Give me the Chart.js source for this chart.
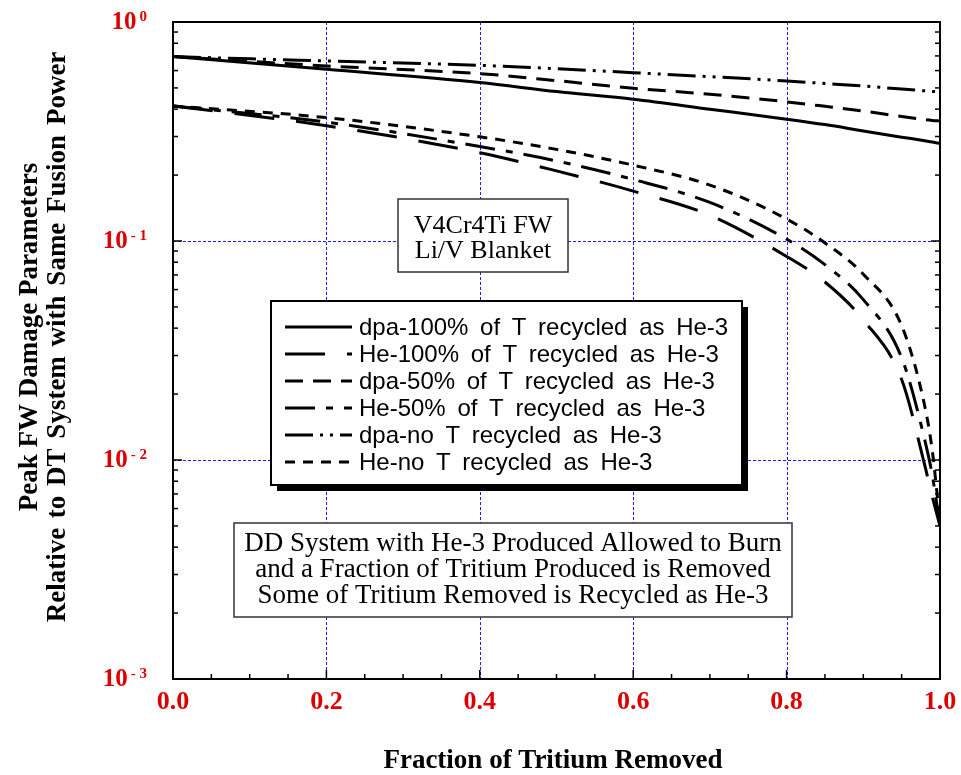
<!DOCTYPE html>
<html>
<head>
<meta charset="utf-8">
<title>Peak FW Damage Parameters</title>
<script src="https://cdn.jsdelivr.net/npm/chart.js@4.4.1/dist/chart.umd.min.js"></script>
<style>
  body { margin: 0; background: #fff; }
  canvas { display: block; }
</style>
</head>
<body>
<canvas id="canvas" width="961" height="775"></canvas>
<script>
// fraction of tritium removed, shared by all curves
const fraction = [0, 0.2, 0.4, 0.5, 0.6, 0.7, 0.8, 0.85, 0.9, 0.95, 0.98, 0.99, 1.0];

// peak damage relative to the DT system
const dpa100 = [0.695, 0.608, 0.529, 0.481, 0.444, 0.400, 0.360, 0.340, 0.318, 0.298, 0.287, 0.283, 0.279];
const he100  = [0.414, 0.336, 0.253, 0.209, 0.169, 0.131, 0.085, 0.065, 0.0436, 0.0233, 0.0095, 0.0068, 0.005];
const dpa50  = [0.695, 0.630, 0.581, 0.540, 0.498, 0.468, 0.432, 0.412, 0.392, 0.370, 0.358, 0.355, 0.353];
const he50   = [0.414, 0.349, 0.270, 0.232, 0.191, 0.150, 0.102, 0.078, 0.054, 0.0293, 0.0124, 0.0085, 0.005];
const dpaNo  = [0.695, 0.664, 0.634, 0.612, 0.587, 0.563, 0.538, 0.524, 0.510, 0.494, 0.485, 0.482, 0.480];
const heNo   = [0.414, 0.366, 0.299, 0.262, 0.222, 0.180, 0.126, 0.098, 0.0705, 0.041, 0.0177, 0.011, 0.0052];

const seriesNames = [
  'dpa-100% of T recycled as He-3',
  'He-100% of T recycled as He-3',
  'dpa-50% of T recycled as He-3',
  'He-50% of T recycled as He-3',
  'dpa-no T recycled as He-3',
  'He-no T recycled as He-3'
];
const seriesValues = [dpa100, he100, dpa50, he50, dpaNo, heNo];
const seriesDash = [[], [40, 22], [18, 10], [30, 11, 7, 11], [28, 7, 3, 7, 3, 7], [10, 8]];

// axis ticks
const xTicks = [0, 0.2, 0.4, 0.6, 0.8, 1.0];
const xTickLabels = ['0.0', '0.2', '0.4', '0.6', '0.8', '1.0'];
const yTicks = [0.001, 0.01, 0.1, 1];
const yTickExp = ['- 3', '- 2', '- 1', '0'];

const xTitle = 'Fraction of Tritium Removed';
const yTitle = ['Peak FW Damage Parameters', 'Relative to DT System with Same Fusion Power'];
const materialNote = ['V4Cr4Ti FW', 'Li/V Blanket'];
const systemNote = [
  'DD System with He-3 Produced Allowed to Burn',
  'and a Fraction of Tritium Produced is Removed',
  'Some of Tritium Removed is Recycled as He-3'
];

const RED = '#dd0000';
const SERIF = '"Liberation Serif", "Times New Roman", serif';
const SANS = '"Liberation Sans", Arial, sans-serif';

function line(ctx, x1, y1, x2, y2) {
  ctx.beginPath();
  ctx.moveTo(x1, y1);
  ctx.lineTo(x2, y2);
  ctx.stroke();
}

function textBox(ctx, x1, y1, x2, y2, lines, font, firstBaseline, lineGap) {
  ctx.save();
  ctx.fillStyle = '#fff';
  ctx.fillRect(x1, y1, x2 - x1, y2 - y1);
  ctx.strokeStyle = '#333';
  ctx.lineWidth = 1.5;
  ctx.strokeRect(x1, y1, x2 - x1, y2 - y1);
  ctx.fillStyle = '#000';
  ctx.font = font;
  ctx.textAlign = 'center';
  ctx.textBaseline = 'alphabetic';
  lines.forEach((t, i) => ctx.fillText(t, (x1 + x2) / 2, firstBaseline + i * lineGap));
  ctx.restore();
}

const decorations = {
  id: 'decorations',
  beforeDraw(chart) {
    const ctx = chart.ctx;
    ctx.save();
    ctx.fillStyle = '#fff';
    ctx.fillRect(0, 0, chart.width, chart.height);
    ctx.restore();
  },
  beforeDatasetsDraw(chart) {
    const { ctx, chartArea: a, scales: { x, y } } = chart;
    ctx.save();
    ctx.strokeStyle = '#1a1aff';
    ctx.lineWidth = 1;
    ctx.setLineDash([3, 2]);
    xTicks.slice(1, -1).forEach(v => {
      const px = Math.round(x.getPixelForValue(v)) + 0.5;
      line(ctx, px, a.top, px, a.bottom);
    });
    yTicks.slice(1, -1).forEach(v => {
      const py = Math.round(y.getPixelForValue(v)) + 0.5;
      line(ctx, a.left, py, a.right, py);
    });
    ctx.restore();
  },
  afterDatasetsDraw(chart) {
    const { ctx, chartArea: a, scales: { x, y } } = chart;
    ctx.save();

    // frame, ticks point inward on bottom, left and right
    ctx.strokeStyle = '#000';
    ctx.lineWidth = 2;
    ctx.strokeRect(a.left, a.top, a.right - a.left, a.bottom - a.top);
    ctx.lineWidth = 1.5;
    for (let i = 0; i <= 20; i++) {
      const len = i % 4 === 0 ? 9 : 5;
      const px = x.getPixelForValue(i * 0.05);
      line(ctx, px, a.bottom, px, a.bottom - len);
    }
    for (let d = -3; d <= 0; d++) {
      for (let k = 1; k <= 9; k++) {
        const v = k * Math.pow(10, d);
        if (v > 1) break;
        const len = k === 1 ? 9 : 5;
        const py = y.getPixelForValue(v);
        line(ctx, a.left, py, a.left + len, py);
        line(ctx, a.right, py, a.right - len, py);
      }
    }

    // tick labels
    ctx.fillStyle = RED;
    ctx.font = 'bold 26px ' + SERIF;
    ctx.textAlign = 'center';
    ctx.textBaseline = 'middle';
    xTicks.forEach((v, i) => ctx.fillText(xTickLabels[i], x.getPixelForValue(v), 702));

    yTicks.forEach((v, i) => {
      const py = y.getPixelForValue(v);
      ctx.font = 'bold 15px ' + SERIF;
      const we = ctx.measureText(yTickExp[i]).width;
      ctx.font = 'bold 25px ' + SERIF;
      const wb = ctx.measureText('10').width;
      const left = 147 - we - 3 - wb;
      ctx.textAlign = 'left';
      ctx.textBaseline = 'middle';
      ctx.fillText('10', left, py + 1);
      ctx.font = 'bold 15px ' + SERIF;
      ctx.textBaseline = 'alphabetic';
      ctx.fillText(yTickExp[i], left + wb + 3, py - 1);
    });

    // axis titles
    ctx.fillStyle = '#000';
    ctx.font = 'bold 27px ' + SERIF;
    ctx.textAlign = 'center';
    ctx.textBaseline = 'alphabetic';
    ctx.fillText(xTitle, 553, 768);
    ctx.save();
    ctx.translate(0, 337);
    ctx.rotate(-Math.PI / 2);
    ctx.textBaseline = 'middle';
    ctx.fillText(yTitle[0], 0, 30);
    if ('wordSpacing' in ctx) ctx.wordSpacing = '3px';
    ctx.fillText(yTitle[1], 0, 58);
    ctx.restore();

    // notes
    textBox(ctx, 398, 199, 568, 272, materialNote, '26px ' + SERIF, 233, 25);
    textBox(ctx, 234, 523, 792, 617, systemNote, '27px ' + SERIF, 551, 26);

    // legend with drop shadow
    const lx1 = 271, ly1 = 301, lx2 = 742, ly2 = 485;
    ctx.fillStyle = '#000';
    ctx.fillRect(lx1 + 6, ly1 + 6, lx2 - lx1, ly2 - ly1);
    ctx.fillStyle = '#fff';
    ctx.fillRect(lx1, ly1, lx2 - lx1, ly2 - ly1);
    ctx.strokeStyle = '#000';
    ctx.lineWidth = 2;
    ctx.strokeRect(lx1, ly1, lx2 - lx1, ly2 - ly1);
    ctx.font = '24px ' + SANS;
    if ('wordSpacing' in ctx) ctx.wordSpacing = '5px';
    ctx.textAlign = 'left';
    ctx.textBaseline = 'middle';
    chart.data.datasets.forEach((ds, i) => {
      const ry = 327 + i * 27;
      ctx.lineWidth = 3;
      ctx.setLineDash(ds.borderDash);
      line(ctx, 285, ry, 352, ry);
      ctx.setLineDash([]);
      ctx.fillStyle = '#000';
      ctx.fillText(ds.label, 359, ry + 1);
    });

    ctx.restore();
  }
};

new Chart(document.getElementById('canvas').getContext('2d'), {
  type: 'line',
  data: {
    datasets: seriesNames.map((name, i) => ({
      label: name,
      data: fraction.map((f, j) => ({ x: f, y: seriesValues[i][j] })),
      borderColor: '#000',
      borderWidth: 3,
      borderDash: seriesDash[i],
      pointRadius: 0,
      fill: false,
      cubicInterpolationMode: 'monotone'
    }))
  },
  options: {
    responsive: false,
    devicePixelRatio: 1,
    animation: false,
    events: [],
    layout: { padding: { left: 173, right: 21, top: 22, bottom: 96 } },
    plugins: { legend: { display: false }, tooltip: { enabled: false } },
    scales: {
      x: { type: 'linear', min: 0, max: 1, display: false },
      y: { type: 'logarithmic', min: 0.001, max: 1, display: false }
    }
  },
  plugins: [decorations]
});
</script>
</body>
</html>
